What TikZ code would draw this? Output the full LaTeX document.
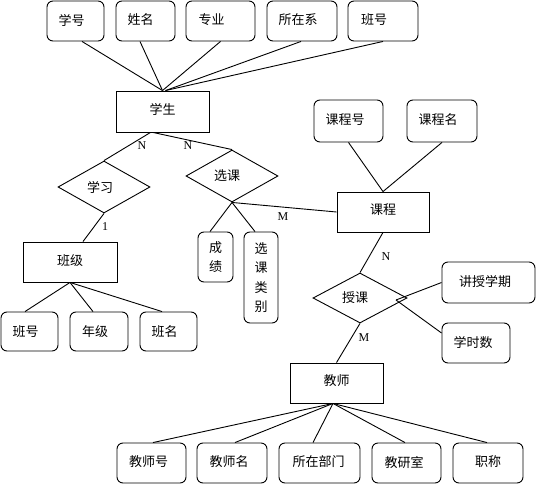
\documentclass[tikz,border=0pt]{standalone}
\usepackage{fontspec}
\setmainfont{Noto Sans CJK SC}
\newfontfamily\latf{Liberation Serif}
\usetikzlibrary{shapes.geometric}
% text placed with a horizontal offset (#1, pt) and a raise (#2, pt)
\newcommand\ctext[3]{\raisebox{#2pt}{\makebox[0pt]{\kern#1pt\kern#1pt #3}}}
\begin{document}
\begin{tikzpicture}[x=1pt,y=-1pt,
  every node/.style={font=\fontsize{13}{19.3}\selectfont, inner sep=0pt},
  attr/.style={draw, rounded corners=6pt, line width=0.9pt},
  ent/.style={draw, line width=0.9pt},
  rel/.style={draw, diamond, line width=0.9pt},
  card/.style={font=\latf\fontsize{12}{14}\selectfont},
  conn/.style={line width=0.9pt}]
\useasboundingbox (0,0) rectangle (536,485);

% top attributes of 学生
\node[attr, minimum width=57pt, minimum height=40pt] (a1) at (75.5,21) {\ctext{-4}{3}{学号}};
\node[attr, minimum width=59pt, minimum height=40pt] (a2) at (145.5,21) {\ctext{-5}{3}{姓名}};
\node[attr, minimum width=69pt, minimum height=40pt] (a3) at (220.5,21) {\ctext{-9}{3}{专业}};
\node[attr, minimum width=70pt, minimum height=40pt] (a4) at (302,21) {\ctext{-4}{3}{所在系}};
\node[attr, minimum width=70pt, minimum height=40pt] (a5) at (383,21) {\ctext{-9}{3}{班号}};

% 学生
\node[ent, minimum width=93pt, minimum height=41pt] (s) at (162.5,111.5) {\ctext{0}{5}{学生}};

% relations
\node[rel, minimum width=92pt, minimum height=52pt] (xx) at (104,187) {\ctext{-4}{0}{学习}};
\node[rel, minimum width=92pt, minimum height=52pt] (xk) at (232,176) {\ctext{-5}{0}{选课}};
\node[rel, minimum width=94pt, minimum height=50pt] (sk) at (360,298) {\ctext{-5}{0}{授课}};

% 班级 and its attributes
\node[ent, minimum width=94pt, minimum height=40pt] (bj) at (70,262) {\ctext{0}{4}{班级}};
\node[attr, minimum width=57pt, minimum height=39pt] (b1) at (29.5,331.5) {\ctext{-4}{1}{班号}};
\node[attr, minimum width=58pt, minimum height=39pt] (b2) at (99,331.5) {\ctext{-4}{1}{年级}};
\node[attr, minimum width=57pt, minimum height=39pt] (b3) at (168.5,331.5) {\ctext{-4}{1}{班名}};

% attributes of 选课
\node[attr, minimum width=35pt, minimum height=50pt, align=center] (c1) at (215.5,257) {成\\绩};
\node[attr, minimum width=34pt, minimum height=91pt, align=center] (c2) at (261,277.5) {选\\课\\类\\别};

% 课程
\node[ent, minimum width=92pt, minimum height=40pt] (kc) at (383,212) {\ctext{0}{5}{课程}};
\node[attr, minimum width=69pt, minimum height=42pt] (k1) at (348.5,121) {\ctext{-3.5}{3}{课程号}};
\node[attr, minimum width=70pt, minimum height=42pt] (k2) at (442,121) {\ctext{-4}{3}{课程名}};

% attributes of 授课
\node[attr, minimum width=93pt, minimum height=41pt] (sq) at (488.5,282.5) {\ctext{-3.5}{2.5}{讲授学期}};
\node[attr, minimum width=68pt, minimum height=40pt] (sh) at (476,343) {\ctext{-3}{3}{学时数}};

% 教师
\node[ent, minimum width=93pt, minimum height=40pt] (js) at (336.5,383) {\ctext{0}{5}{教师}};
\node[attr, minimum width=69pt, minimum height=40pt] (t1) at (151.5,463) {\ctext{-3}{3}{教师号}};
\node[attr, minimum width=70pt, minimum height=40pt] (t2) at (232,463) {\ctext{-3}{3}{教师名}};
\node[attr, minimum width=81pt, minimum height=40pt] (t3) at (319.5,463) {\ctext{-1}{3}{所在部门}};
\node[attr, minimum width=69pt, minimum height=40pt] (t4) at (406.5,463) {\ctext{-2.5}{3}{教研室}};
\node[attr, minimum width=70pt, minimum height=40pt] (t5) at (488,463) {\ctext{0}{3}{职称}};

% connectors
\draw[conn] ([xshift=6.5pt]a1.south) -- (s.north);
\draw[conn] ([xshift=-5.5pt]a2.south) -- (s.north);
\draw[conn] (a3.south) -- (s.north);
\draw[conn] ([xshift=-1pt]a4.south) -- ([xshift=3pt]s.north);
\draw[conn] (a5.south) -- ([xshift=3pt]s.north);

\draw[conn] ([xshift=-12pt]s.south) -- (xx.north);
\draw[conn] ([xshift=-9.5pt]s.south) -- (xk.north);
\draw[conn] (xx.south) -- ([xshift=13pt]bj.north);
\draw[conn] (bj.south) -- ([xshift=-4.5pt]b1.north);
\draw[conn] (bj.south) -- ([xshift=-6pt]b2.north);
\draw[conn] (bj.south) -- ([xshift=-6.5pt]b3.north);

\draw[conn] (xk.south) -- ([xshift=-5.5pt]c1.north);
\draw[conn] (xk.south) -- ([xshift=-6pt]c2.north);
\draw[conn] (xk.south) -- (kc.west);

\draw[conn] (k1.south) -- (kc.north);
\draw[conn] (k2.south) -- (kc.north);
\draw[conn] (kc.south) -- (sk.north);
\draw[conn] ([shift={(36pt,-2pt)}]sk.center) -- (sq.west);
\draw[conn] ([shift={(36pt,-2pt)}]sk.center) -- ([yshift=10pt]sh.west);
\draw[conn] (sk.south) -- (js.north);

\draw[conn] ([xshift=-3.5pt]js.south) -- ([xshift=1.5pt]t1.north);
\draw[conn] ([xshift=-3.5pt]js.south) -- ([xshift=3pt]t2.north);
\draw[conn] ([xshift=-3.5pt]js.south) -- ([xshift=-6.5pt]t3.north);
\draw[conn] ([xshift=-3.5pt]js.south) -- ([xshift=-1.5pt]t4.north);
\draw[conn] ([xshift=-3.5pt]js.south) -- ([xshift=-1pt]t5.north);

% cardinalities
\node[card] (n1) at (142,146) {N};
\node[card] (n2) at (188,146) {N};
\node[card] (o1) at (105,227) {1};
\node[card] (m1) at (283,217) {M};
\node[card] (n3) at (386,257) {N};
\node[card] (m2) at (364,338) {M};
\end{tikzpicture}
\end{document}
